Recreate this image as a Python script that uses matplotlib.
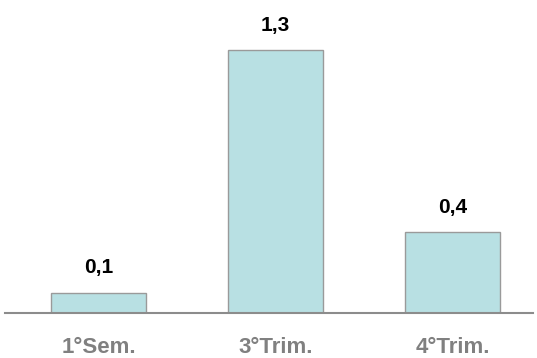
import matplotlib
matplotlib.use("Agg")
import matplotlib.pyplot as plt

categories = ["1°Sem.", "3°Trim.", "4°Trim."]
values = [0.1, 1.3, 0.4]
value_labels = ["0,1", "1,3", "0,4"]

plt.rcParams['font.family'] = ['Liberation Sans', 'DejaVu Sans']

fig = plt.figure(figsize=(5.37, 3.58), dpi=100)
ax = fig.add_axes([5 / 537, 45 / 358, 528 / 537, 313 / 358])

x = list(range(len(categories)))
ax.bar(x, values, width=0.537, color="#b8e0e3", edgecolor="#9a9a9a", linewidth=1.0)

for xi, v, lab in zip(x, values, value_labels):
    ax.annotate(lab, (xi, v), xytext=(0, 11), textcoords="offset points",
                ha="center", va="bottom", fontsize=15, fontweight="bold", color="black")

ax.set_xlim(-0.528, 2.455)
ax.set_ylim(0, 1.547)

for s in ["top", "right", "left"]:
    ax.spines[s].set_visible(False)
ax.spines["bottom"].set_color("#8c8c8c")
ax.spines["bottom"].set_linewidth(1.5)
ax.set_yticks([])
ax.set_xticks(x)
ax.set_xticklabels(categories, fontsize=16, fontweight="bold", color="#808080")
ax.tick_params(axis="x", length=0, pad=17)

fig.savefig("out.png", dpi=100)
